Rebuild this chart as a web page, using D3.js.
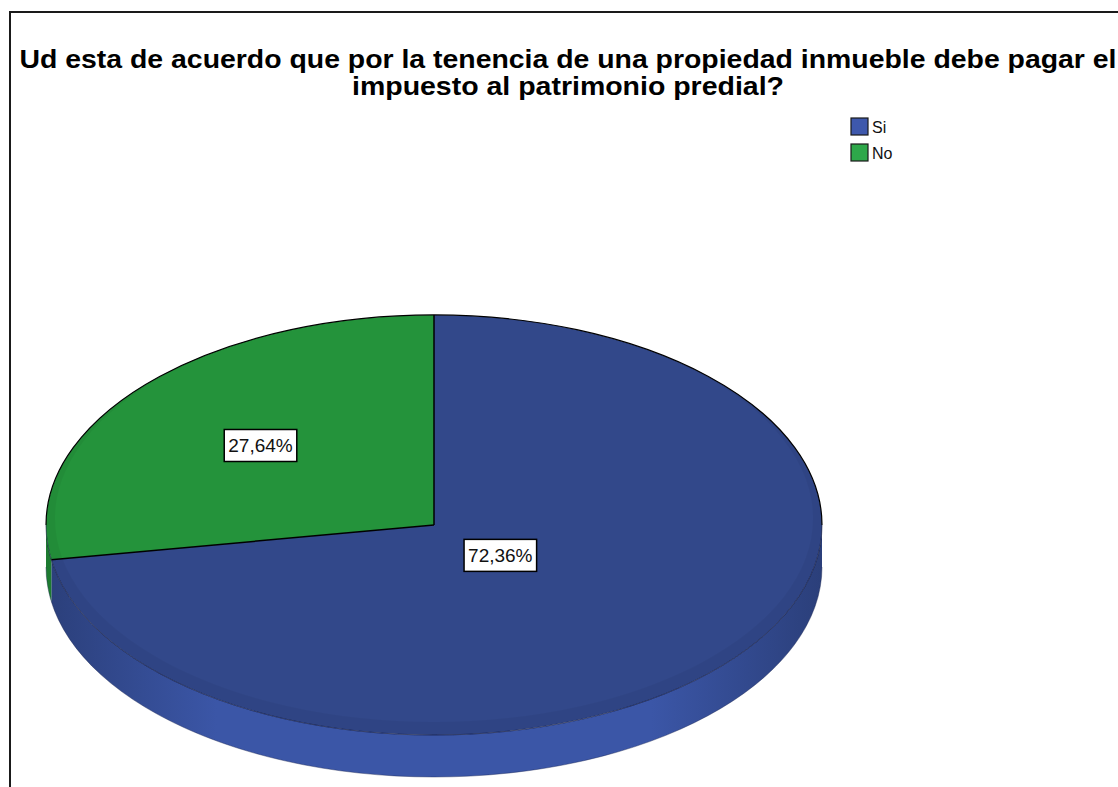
<!DOCTYPE html>
<html>
<head>
<meta charset="utf-8">
<script src="https://cdn.jsdelivr.net/npm/d3@7"></script>
<style>
  body { margin: 0; background: #fff; }
  svg { display: block; font-family: "Liberation Sans", Arial, sans-serif; }
</style>
</head>
<body>
<div id="chart"></div>
<script>
// data
const categories = ["Si", "No"];
const percentages = [72.36, 27.64];
const titleLines = [
  "Ud esta de acuerdo que por la tenencia de una propiedad inmueble debe pagar el",
  "impuesto al patrimonio predial?"
];

const width = 1118, height = 787;

const topColor = d3.scaleOrdinal().domain(categories).range(["#32488a", "#24933b"]);
const legendColor = d3.scaleOrdinal().domain(categories).range(["#3e58ac", "#2ea84a"]);
const sideLight = d3.scaleOrdinal().domain(categories).range(["#3b56a7", "#27a03f"]);
const sideDark = d3.scaleOrdinal().domain(categories).range(["#2b3f7a", "#1d7a30"]);

const locale = d3.formatLocale({ decimal: ",", thousands: ".", grouping: [3], currency: ["", ""] });
const pct = v => locale.format(".2f")(v) + "%";

const svg = d3.select("#chart").append("svg")
  .attr("width", width)
  .attr("height", height);

// frame
svg.append("path")
  .attr("d", `M10,787 L10,12 L1118,12`)
  .attr("fill", "none")
  .attr("stroke", "#1a1a1a")
  .attr("stroke-width", 2);

// title
const title = svg.append("g").attr("class", "title");
title.selectAll("text")
  .data(titleLines)
  .enter().append("text")
    .attr("x", 568)
    .attr("y", (d, i) => 68 + i * 27)
    .attr("text-anchor", "middle")
    .attr("font-size", 26)
    .attr("font-weight", "bold")
    .attr("fill", "#000")
    .attr("textLength", (d, i) => i === 0 ? 1097 : 432)
    .attr("lengthAdjust", "spacingAndGlyphs")
    .text(d => d);

// pie geometry
const cx = 434, cy = 525, rx = 388, ry = 210, depth = 42;

const pie = d3.pie().sort(null).value(d => d.value);
const arcs = pie(categories.map((c, i) => ({ key: c, value: percentages[i] })));

const px = a => cx + rx * Math.sin(a);
const py = a => cy - ry * Math.cos(a);

const defs = svg.append("defs");
categories.forEach((c, i) => {
  const g = defs.append("linearGradient")
    .attr("id", "side" + i)
    .attr("gradientUnits", "userSpaceOnUse")
    .attr("x1", cx - rx).attr("x2", cx + rx)
    .attr("y1", 0).attr("y2", 0);
  g.append("stop").attr("offset", "0%").attr("stop-color", sideDark(c));
  g.append("stop").attr("offset", "22%").attr("stop-color", sideLight(c));
  g.append("stop").attr("offset", "78%").attr("stop-color", sideLight(c));
  g.append("stop").attr("offset", "100%").attr("stop-color", sideDark(c));
});

// side walls (front half only: angles between pi/2 and 3pi/2)
const sides = svg.append("g").attr("class", "sides");
arcs.forEach((d, i) => {
  const a0 = Math.max(d.startAngle, Math.PI / 2);
  const a1 = Math.min(d.endAngle, Math.PI * 1.5);
  if (a1 <= a0) return;
  const p = `M${px(a0)},${py(a0)}` +
    ` A${rx},${ry} 0 0 1 ${px(a1)},${py(a1)}` +
    ` L${px(a1)},${py(a1) + depth}` +
    ` A${rx},${ry} 0 0 0 ${px(a0)},${py(a0) + depth} Z`;
  sides.append("path")
    .attr("d", p)
    .attr("fill", `url(#side${i})`);
});

// soft edge under the side wall
sides.append("path")
  .attr("d", `M${px(Math.PI / 2)},${py(Math.PI / 2) + depth} A${rx},${ry} 0 0 1 ${px(Math.PI * 1.5)},${py(Math.PI * 1.5) + depth}`)
  .attr("fill", "none")
  .attr("stroke", "#1b2550")
  .attr("stroke-opacity", 0.4)
  .attr("stroke-width", 1);

// top face, drawn as circular arcs squashed into an ellipse
const arcGen = d3.arc().innerRadius(0).outerRadius(rx);
const topFace = svg.append("g")
  .attr("transform", `translate(${cx},${cy}) scale(1,${ry / rx})`);

topFace.selectAll("path.slice")
  .data(arcs)
  .enter().append("path")
    .attr("class", "slice")
    .attr("d", arcGen)
    .attr("fill", d => topColor(d.data.key));

// faint darker rim toward the front of the top face
topFace.append("path")
  .attr("d", `M${-rx},0 A${rx},${rx} 0 1 0 ${rx},0 A${rx},${rx} 0 1 0 ${-rx},0 Z ` +
    `M${-rx + 9},${-12} A${rx - 9},${rx - 12} 0 1 0 ${rx - 9},${-12} A${rx - 9},${rx - 12} 0 1 0 ${-rx + 9},${-12} Z`)
  .attr("fill", "#000")
  .attr("fill-opacity", 0.045)
  .attr("fill-rule", "evenodd");

// outlines: back rim and slice radii
topFace.append("path")
  .attr("d", d3.arc().innerRadius(rx).outerRadius(rx).startAngle(-Math.PI / 2).endAngle(Math.PI / 2)())
  .attr("fill", "none")
  .attr("stroke", "#000")
  .attr("stroke-width", 1.2)
  .attr("vector-effect", "non-scaling-stroke");

topFace.selectAll("line.radius")
  .data(arcs)
  .enter().append("line")
    .attr("class", "radius")
    .attr("x1", 0).attr("y1", 0)
    .attr("x2", d => rx * Math.sin(d.startAngle))
    .attr("y2", d => -rx * Math.cos(d.startAngle))
    .attr("stroke", "#000")
    .attr("stroke-width", 1.5)
    .attr("vector-effect", "non-scaling-stroke");

// front rim, lighter
topFace.append("path")
  .attr("d", d3.arc().innerRadius(rx).outerRadius(rx).startAngle(Math.PI / 2).endAngle(Math.PI * 1.5)())
  .attr("fill", "none")
  .attr("stroke", "#10183a")
  .attr("stroke-opacity", 0.35)
  .attr("stroke-width", 1)
  .attr("vector-effect", "non-scaling-stroke");

// value labels at slice centroids
const labels = svg.append("g").attr("class", "labels");
arcs.forEach(d => {
  const alpha = d.endAngle - d.startAngle;
  const mid = (d.startAngle + d.endAngle) / 2;
  const f = (2 / 3) * Math.sin(alpha / 2) / (alpha / 2);
  const lx = cx + f * rx * Math.sin(mid);
  const ly = cy - f * ry * Math.cos(mid);
  const g = labels.append("g").attr("transform", `translate(${lx},${ly})`);
  const rect = g.append("rect");
  const t = g.append("text")
    .attr("text-anchor", "middle")
    .attr("dy", "0.35em")
    .attr("font-size", 19)
    .attr("fill", "#111")
    .text(pct(d.data.value));
  const bb = t.node().getBBox();
  rect.attr("x", bb.x - 4).attr("y", -16)
    .attr("width", bb.width + 8).attr("height", 32)
    .attr("fill", "#fff")
    .attr("stroke", "#000")
    .attr("stroke-width", 1.5);
});

// legend
const legend = svg.append("g").attr("class", "legend")
  .attr("transform", "translate(851,118)");
const item = legend.selectAll("g")
  .data(categories)
  .enter().append("g")
    .attr("transform", (d, i) => `translate(0,${i * 26})`);
item.append("rect")
  .attr("width", 17).attr("height", 17)
  .attr("fill", d => legendColor(d))
  .attr("stroke", "#1a1a1a")
  .attr("stroke-width", 1.2);
item.append("text")
  .attr("x", 21).attr("y", 9)
  .attr("dy", "0.35em")
  .attr("font-size", 16)
  .attr("fill", "#111")
  .text(d => d);
</script>
</body>
</html>
